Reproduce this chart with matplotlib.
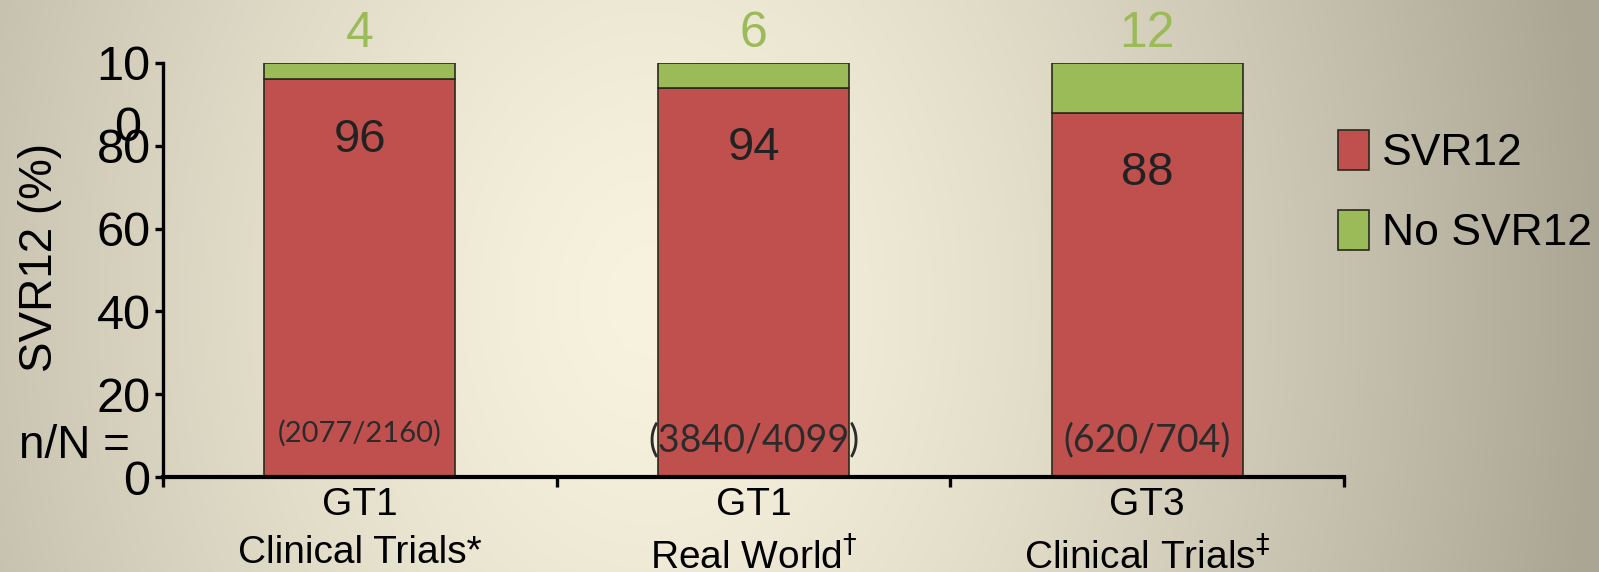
import numpy as np
import matplotlib.pyplot as plt
from matplotlib import transforms

plt.rcParams['font.family'] = ['Liberation Sans', 'DejaVu Sans']

# data
categories = ['GT1\nClinical Trials*', 'GT1\nReal World$^{\\dagger}$', 'GT3\nClinical Trials$^{\\ddagger}$']
svr12 = [96, 94, 88]
no_svr12 = [4, 6, 12]
n_over_N = ['(2077/2160)', '(3840/4099)', '(620/704)']
nN_sizes = [21, 27, 27]
nN_y = [10.6, 8.9, 8.9]
y_ticks = [0, 20, 40, 60, 80, 100]
y_ticklabels = ['0', '20', '40', '60', '80', '10']   # the "100" wraps on the slide

RED = '#C0504D'
GREEN = '#9BBB59'
EDGE = '#2a2a1c'

fig = plt.figure(figsize=(15.99, 5.72), dpi=100)

# slide-style background gradient
bg = fig.add_axes([0, 0, 1, 1], zorder=-10)
H, W = 572, 1599
yy, xx = np.mgrid[0:H, 0:W]
d = np.sqrt(((xx - 650) / 950.0) ** 2 + ((yy - 300) / 1240.0) ** 2)
t = np.clip(d, 0, 1) ** 1.4
c0 = np.array([248, 243, 222]) / 255.0
c1 = np.array([171, 165, 148]) / 255.0
bg.imshow(c0 + (c1 - c0) * t[..., None], aspect='auto', extent=[0, 1, 0, 1])
bg.axis('off')

ax = fig.add_axes([0.102, 0.166, 0.7385, 0.724])
ax.patch.set_alpha(0)

x = np.arange(len(categories))
bw = 0.485
ax.bar(x, svr12, bw, color=RED, edgecolor=EDGE, linewidth=1.2, label='SVR12')
ax.bar(x, no_svr12, bw, bottom=svr12, color=GREEN, edgecolor=EDGE, linewidth=1.2, label='No SVR12')

for xi, v, g, s, fs, ny in zip(x, svr12, no_svr12, n_over_N, nN_sizes, nN_y):
    ax.text(xi, v - 14.5, str(v), ha='center', va='center', fontsize=34, color='#222222')
    ax.text(xi, 107, str(g), ha='center', va='center', fontsize=36, color=GREEN, clip_on=False)
    ax.text(xi, ny, s, ha='center', va='center', fontsize=fs, color='#2b2b2b', family='Lato')

ax.set_xlim(-0.5, 2.5)
ax.set_ylim(0, 100)
for side in ['top', 'right']:
    ax.spines[side].set_visible(False)
ax.spines['left'].set_linewidth(2.4)
ax.spines['bottom'].set_linewidth(3.0)
ax.spines['left'].set_capstyle('projecting')
ax.spines['bottom'].set_capstyle('projecting')

ax.set_yticks(y_ticks)
ax.set_yticklabels(y_ticklabels)
ax.tick_params(axis='y', length=6, width=2.4, labelsize=35, pad=3)
# wrapped second line of the "100" label
off = transforms.offset_copy(ax.get_yaxis_transform(), fig=fig, x=-15.5, y=0, units='points')
ax.text(0, 85.3, '0', transform=off, ha='right', va='center_baseline', fontsize=35)

ax.set_xticks([-0.5, 0.5, 1.5, 2.5])
ax.set_xticklabels([])
ax.tick_params(axis='x', which='major', length=7, width=2.4, direction='out')
ax.set_xticks(x, minor=True)
ax.set_xticklabels(categories, minor=True, fontsize=28, linespacing=1.45)
ax.tick_params(axis='x', which='minor', length=0, pad=7)

fig.text(40 / 1599, 1 - 257 / 572, 'SVR12 (%)', rotation=90, ha='center', va='center', fontsize=33)
fig.text(74 / 1599, 1 - 446 / 572, 'n/N =', ha='center', va='center', fontsize=33)

leg = ax.legend(loc='center left', bbox_to_anchor=(0.837, 0.664), bbox_transform=fig.transFigure,
                frameon=False, fontsize=32, handlelength=0.68, handleheight=1.0,
                handletextpad=0.3, labelspacing=0.8, borderpad=0, borderaxespad=0)

fig.savefig('out.png', dpi=100)
